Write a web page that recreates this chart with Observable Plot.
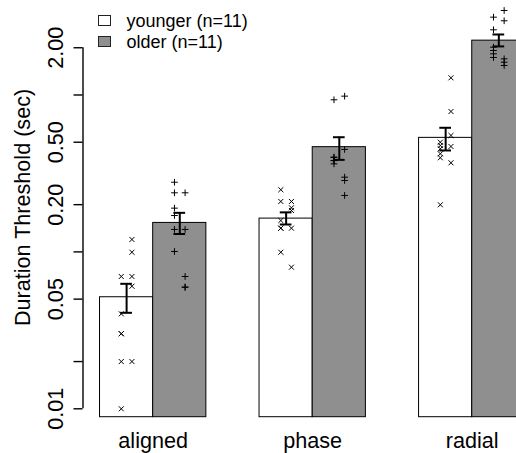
<!DOCTYPE html>
<html>
<head>
<meta charset="utf-8">
<script src="https://cdn.jsdelivr.net/npm/d3@7"></script>
<script src="https://cdn.jsdelivr.net/npm/@observablehq/plot@0.6"></script>
<style>
  html, body { margin: 0; padding: 0; background: #fff; }
  #wrap { position: relative; width: 516px; height: 453px; overflow: hidden; font-family: "Liberation Sans", Arial, Helvetica, sans-serif; }
  #legend { position: absolute; left: 0; top: 0; pointer-events: none; }
</style>
</head>
<body>
<div id="wrap"><div id="chart"></div><svg id="legend" width="516" height="453"></svg></div>
<script>
// ---- data ----
const conditions = ["aligned", "phase", "radial"];
const groups = ["younger", "older"];
const legendLabels = ["younger (n=11)", "older (n=11)"];

const meanYounger = [0.0514, 0.163, 0.533];
const meanOlder   = [0.153, 0.465, 2.22];
const errLoYounger = [0.0409, 0.1495, 0.443];
const errHiYounger = [0.0626, 0.1786, 0.618];
const errLoOlder   = [0.130, 0.386, 2.04];
const errHiOlder   = [0.1774, 0.538, 2.43];

const pointsYounger = [
  [0.120, 0.0995, 0.0697, 0.0697, 0.0604, 0.0403, 0.0301, 0.0301, 0.020, 0.020, 0.010],
  [0.249, 0.2096, 0.2096, 0.191, 0.1836, 0.1585, 0.1416, 0.1416, 0.1416, 0.0995, 0.0799],
  [1.287, 0.785, 0.552, 0.500, 0.4766, 0.454, 0.422, 0.398, 0.4697, 0.3698, 0.1997]
];
const sideYounger = [
  [1, 1, -1, 1, 1, -1, -1, -1, -1, 1, -1],
  [-1, -1, 1, 1, 1, -1, -1, 1, -1, -1, 1],
  [1, 1, 1, -1, -1, -1, -1, -1, 1, 1, -1]
];
const pointsOlder = [
  [0.278, 0.238, 0.238, 0.190, 0.1706, 0.139, 0.139, 0.1006, 0.0697, 0.0596, 0.0596],
  [0.932, 0.983, 0.450, 0.401, 0.401, 0.382, 0.382, 0.364, 0.2994, 0.2852, 0.2289],
  [3.456, 3.133, 2.971, 2.603, 2.016, 1.921, 1.830, 1.734, 1.700, 1.618, 1.542]
];
const sideOlder = [
  [-1, -1, 1, -1, -1, -1, 1, -1, 1, 1, 1],
  [-1, 1, 1, -1, -1, -1, -1, -1, 1, 1, 1],
  [1, -1, 1, -1, -1, -1, -1, -1, 1, 1, 1]
];

const yTicks = [0.01, 0.02, 0.05, 0.1, 0.2, 0.5, 1, 2];
const yTickLabels = ["0.01", "", "0.05", "", "0.20", "0.50", "", "2.00"];
const yTitle = "Duration Threshold (sec)";

// plot-region limits (like R's par("usr"))
const xLimits = [0.68, 9.32];
const yLimits = [0.00884, 3.6];

// ---- styles ----
const grayFill = "#8f8f8f";
const fontFamily = '"Liberation Sans", Arial, Helvetica, sans-serif';

// ---- build tables ----
const means = {younger: meanYounger, older: meanOlder};
const lo = {younger: errLoYounger, older: errLoOlder};
const hi = {younger: errHiYounger, older: errHiOlder};
const pts = {younger: pointsYounger, older: pointsOlder};
const sides = {younger: sideYounger, older: sideOlder};

const bars = [];
const points = [];
conditions.forEach((c, ci) => {
  groups.forEach((g, gi) => {
    const x1 = 1 + 3 * ci + gi; // barplot layout: width 1, space between groups 1
    const xc = x1 + 0.5;
    bars.push({c, g, x1, x2: x1 + 1, xc, mean: means[g][ci], lo: lo[g][ci], hi: hi[g][ci]});
    pts[g][ci].forEach((v, k) => points.push({c, g, x: xc + 0.1 * sides[g][ci][k], v}));
  });
});
const capHalf = 0.11;
const tickData = yTicks.map((v, i) => ({v, label: yTickLabels[i]})).filter(d => d.label !== "");

const W = 516, H = 453;
const chart = Plot.plot({
  width: W,
  height: H,
  marginLeft: 82.5,
  marginRight: 0,
  marginTop: 7.2,
  marginBottom: H - 416.7,
  style: {fontFamily, background: "white", color: "black", overflow: "hidden"},
  x: {type: "linear", domain: xLimits, range: [82.5, 82.5 + (xLimits[1] - xLimits[0]) * 53.175], axis: null},
  y: {type: "log", domain: yLimits, range: [416.7, 7.2], axis: null},
  marks: [
    Plot.rect(bars.filter(d => d.g === "younger"), {x1: "x1", x2: "x2", y1: yLimits[0], y2: "mean", fill: "white", stroke: "black", strokeWidth: 1}),
    Plot.rect(bars.filter(d => d.g === "older"), {x1: "x1", x2: "x2", y1: yLimits[0], y2: "mean", fill: grayFill, stroke: "black", strokeWidth: 1}),
    Plot.dot(points.filter(d => d.g === "younger"), {x: "x", y: "v", symbol: "times", r: 2.4, stroke: "black", strokeWidth: 1}),
    Plot.dot(points.filter(d => d.g === "older"), {x: "x", y: "v", symbol: "plus", r: 2.3, stroke: "black", strokeWidth: 1}),
    Plot.ruleX(bars, {x: "xc", y1: "lo", y2: "hi", stroke: "black", strokeWidth: 2}),
    Plot.ruleY(bars, {y: "hi", x1: d => d.xc - capHalf, x2: d => d.xc + capHalf, stroke: "black", strokeWidth: 2}),
    Plot.ruleY(bars, {y: "lo", x1: d => d.xc - capHalf, x2: d => d.xc + capHalf, stroke: "black", strokeWidth: 2}),
    // y axis
    Plot.ruleX([xLimits[0]], {x: d => d, y1: yTicks[0], y2: yTicks[yTicks.length - 1], stroke: "black", strokeWidth: 1.4}),
    Plot.axisY({ticks: yTicks, tickSize: 9, tickFormat: () => "", label: null, strokeWidth: 1.4}),
    Plot.text(tickData, {y: "v", text: "label", frameAnchor: "left", rotate: -90, textAnchor: "middle", lineAnchor: "bottom", dx: -20.5, fontSize: 21.6, fill: "black"}),
    Plot.text([yTitle], {text: d => d, frameAnchor: "left", rotate: -90, textAnchor: "middle", lineAnchor: "bottom", dx: -53, dy: -5, fontSize: 21.6, fill: "black"}),
    // x labels
    Plot.text(conditions, {x: (d, i) => 2 + 3 * i, text: d => d, frameAnchor: "bottom", lineAnchor: "bottom", dy: 30.6, fontSize: 21.6, fill: "black"})
  ]
});
document.getElementById("chart").appendChild(chart);

// legend (top-left, inside plot region)
const leg = d3.select("#legend");
const legFills = ["white", grayFill];
legendLabels.forEach((lab, i) => {
  const y0 = 15.5 + i * 21;
  leg.append("rect").attr("x", 98.5).attr("y", y0).attr("width", 12).attr("height", 10)
    .attr("fill", legFills[i]).attr("stroke", "#222").attr("stroke-width", 1);
  leg.append("text").attr("x", 126.5).attr("y", y0 + 11.2)
    .attr("font-family", fontFamily).attr("font-size", 18).attr("fill", "black").text(lab);
});
</script>
</body>
</html>
